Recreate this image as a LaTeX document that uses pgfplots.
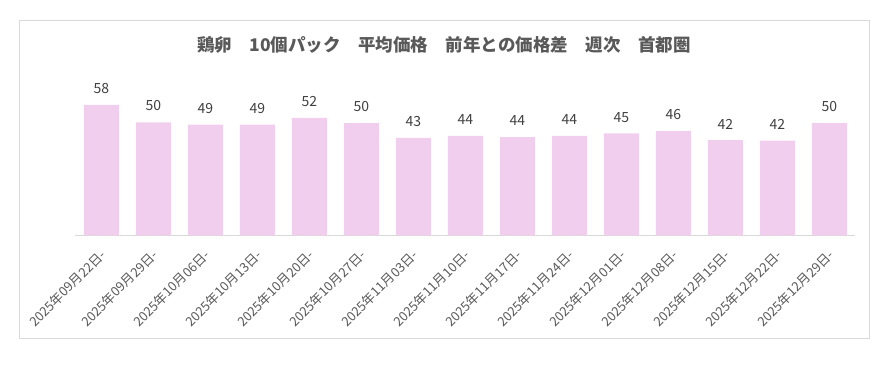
\documentclass[border=0pt]{standalone}
\usepackage{pgfplots}
\pgfplotsset{compat=1.18}
\usepackage{fontspec}
\setmainfont{Noto Sans CJK JP}
\definecolor{barpink}{RGB}{242,206,238}
\definecolor{axisgray}{RGB}{217,217,217}
\definecolor{labgray}{RGB}{64,64,64}
\definecolor{tickgray}{RGB}{89,89,89}
\definecolor{titlegray}{RGB}{89,89,89}
\begin{document}
\begin{tikzpicture}[x=1bp,y=1bp]
\useasboundingbox (0,0) rectangle (895,364);
\draw[axisgray, line width=0.75bp] (19.5,344) rectangle (869,26);
\node[font=\fontsize{17.5bp}{21bp}\selectfont\bfseries, text=titlegray] at (444,319) {鶏卵　10個パック　平均価格　前年との価格差　週次　首都圏};
\begin{axis}[
  at={(75.3bp,128.7bp)}, anchor=south west,
  scale only axis, width=780bp, height=157bp,
  xmin=-0.5, xmax=14.5, ymin=0, ymax=70,
  clip=false,
  axis y line=none,
  axis x line*=bottom,
  x axis line style={draw=axisgray, line width=0.75bp, -},
  ytick=\empty,
  tick align=outside,
  xtick={0,...,14},
  xticklabels={2025年09月22日-,2025年09月29日-,2025年10月06日-,2025年10月13日-,2025年10月20日-,2025年10月27日-,2025年11月03日-,2025年11月10日-,2025年11月17日-,2025年11月24日-,2025年12月01日-,2025年12月08日-,2025年12月15日-,2025年12月22日-,2025年12月29日-},
  major tick length=0pt,
  xtick style={draw=none},
  extra x ticks={-0.5,0.5,...,14.5},
  extra x tick labels={},
  extra x tick style={major tick length=5bp, tick style={draw=axisgray, line width=0.75bp}},
  xticklabel style={font=\fontsize{13bp}{15bp}\selectfont, text=tickgray, inner sep=0pt, yshift=-17bp, xshift=2bp, rotate=45, anchor=east},
  ybar, bar width=35bp,
  nodes near coords,
  nodes near coords style={font=\fontsize{14bp}{16bp}\selectfont, text=labgray, inner sep=0pt, anchor=south, yshift=11bp},
  /pgf/number format/.cd, fixed, precision=0, assume math mode=true,
]
\addplot[fill=barpink, draw=none] coordinates {
(0,58.2) (1,50.4) (2,49.3) (3,49.4) (4,52.4) (5,50.0) (6,43.4) (7,44.3) (8,43.8) (9,44.3) (10,45.4) (11,46.4) (12,42.4) (13,42.2) (14,50.0)
};
\end{axis}
\end{tikzpicture}
\end{document}
